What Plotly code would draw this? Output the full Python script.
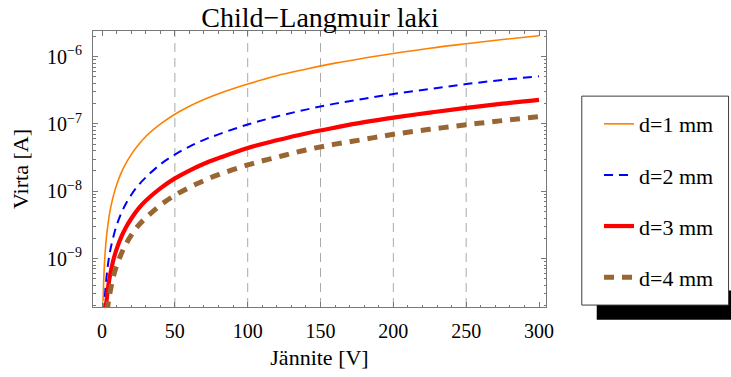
import plotly.graph_objects as go

# Voltage values (V)
voltage = [0.7, 1, 1.5, 2, 3, 4, 5, 6, 8, 10, 13, 16, 20, 25, 30, 40, 50, 60, 70, 80,
           100, 120, 140, 160, 180, 200, 225, 250, 275, 300]

# Current (A), one list per electrode gap
current_d1 = [2.3e-10, 3.9e-10, 7.2e-10, 1.11e-9, 2.04e-9, 3.1e-9, 4.4e-9, 5.8e-9, 8.9e-9, 1.24e-8,
              1.84e-8, 2.5e-8, 3.5e-8, 4.9e-8, 6.5e-8, 9.9e-8, 1.39e-7, 1.83e-7, 2.3e-7, 2.8e-7,
              3.9e-7, 5.2e-7, 6.5e-7, 8.0e-7, 9.5e-7, 1.11e-6, 1.33e-6, 1.55e-6, 1.79e-6, 2.04e-6]
current_d2 = [5.8e-11, 9.8e-11, 1.8e-10, 2.8e-10, 5.1e-10, 7.9e-10, 1.1e-9, 1.44e-9, 2.2e-9, 3.1e-9,
              4.6e-9, 6.3e-9, 8.8e-9, 1.23e-8, 1.6e-8, 2.5e-8, 3.5e-8, 4.6e-8, 5.8e-8, 7.0e-8,
              9.8e-8, 1.29e-7, 1.63e-7, 2.0e-7, 2.37e-7, 2.78e-7, 3.3e-7, 3.9e-7, 4.5e-7, 5.1e-7]
current_d3 = [2.6e-11, 4.4e-11, 8.0e-11, 1.24e-10, 2.27e-10, 3.5e-10, 4.9e-10, 6.4e-10, 9.9e-10, 1.38e-9,
              2.05e-9, 2.8e-9, 3.9e-9, 5.5e-9, 7.2e-9, 1.1e-8, 1.55e-8, 2.03e-8, 2.56e-8, 3.1e-8,
              4.4e-8, 5.7e-8, 7.2e-8, 8.8e-8, 1.06e-7, 1.24e-7, 1.47e-7, 1.73e-7, 2.0e-7, 2.27e-7]
current_d4 = [1.4e-11, 2.5e-11, 4.5e-11, 7.0e-11, 1.28e-10, 2.0e-10, 2.75e-10, 3.6e-10, 5.6e-10, 7.8e-10,
              1.15e-9, 1.57e-9, 2.2e-9, 3.1e-9, 4.0e-9, 6.2e-9, 8.7e-9, 1.14e-8, 1.44e-8, 1.76e-8,
              2.46e-8, 3.2e-8, 4.1e-8, 5.0e-8, 5.9e-8, 7.0e-8, 8.3e-8, 9.7e-8, 1.12e-7, 1.28e-7]

series_names = ["d=1 mm", "d=2 mm", "d=3 mm", "d=4 mm"]

x_ticks = [0, 50, 100, 150, 200, 250, 300]
y_ticks = [1e-9, 1e-8, 1e-7, 1e-6]
y_tick_text = ["10<sup>\u22129</sup>", "10<sup>\u22128</sup>", "10<sup>\u22127</sup>", "10<sup>\u22126</sup>"]
grid_v = [50, 100, 150, 200, 250]

SERIF = "Liberation Serif, Times New Roman, serif"

styles = [
    dict(color="rgb(255,128,0)", width=1.6, dash="solid", shape="spline", smoothing=1.0),
    dict(color="rgb(0,0,255)", width=2, dash="9px,6px", shape="spline", smoothing=1.0),
    dict(color="rgb(255,0,0)", width=4.2, dash="solid", shape="spline", smoothing=1.0),
    dict(color="rgb(153,102,51)", width=5, dash="10px,8px", shape="spline", smoothing=1.0),
]

fig = go.Figure()
for i, (name, ys) in enumerate(zip(series_names, [current_d1, current_d2, current_d3, current_d4])):
    fig.add_trace(go.Scatter(x=voltage, y=ys, mode="lines", name=name, line=styles[i],
                             legendgroup=str(i)))

for v in grid_v:
    fig.add_shape(type="line", xref="x", yref="paper", x0=v, x1=v, y0=0, y1=1,
                  line=dict(color="rgb(170,170,170)", width=1, dash="9px,6px"), layer="below")

# legend box with shadow
fig.add_shape(type="rect", xref="paper", yref="paper", x0=1.112, x1=1.45, y0=-0.046, y1=0.06,
              fillcolor="black", line=dict(width=0))
fig.add_shape(type="rect", xref="paper", yref="paper", x0=1.079, x1=1.403, y0=0.007, y1=0.764,
              fillcolor="white", line=dict(color="rgb(60,60,60)", width=1))

axis_common = dict(showline=True, linecolor="rgb(120,120,120)", linewidth=1, mirror="ticks",
                   ticks="inside", tickcolor="rgb(120,120,120)", ticklen=5,
                   tickfont=dict(family=SERIF, size=20, color="black"), zeroline=False,
                   showgrid=False)

fig.update_layout(
    width=731, height=377,
    margin=dict(l=93, r=184, t=31, b=66),
    paper_bgcolor="white", plot_bgcolor="white",
    title=dict(text="Child\u2212Langmuir laki", x=(320) / 731, xanchor="center", y=0.955, yanchor="middle",
               font=dict(family=SERIF, size=28, color="black")),
    xaxis=dict(range=[-6.2, 304.8], tickvals=x_ticks, ticklabelstandoff=6,
               title=dict(text="Jännite [V]", font=dict(family=SERIF, size=22, color="black"), standoff=8),
               minor=dict(dtick=10, ticks="inside", ticklen=2.5, tickcolor="rgb(120,120,120)"),
               **axis_common),
    yaxis=dict(type="log", range=[-9.72, -5.62], tickvals=y_ticks, ticktext=y_tick_text,
               ticklabelstandoff=6,
               title=dict(text="Virta [A]", font=dict(family=SERIF, size=22, color="black"), standoff=12),
               minor=dict(dtick="D1", ticks="inside", ticklen=2.5, tickcolor="rgb(120,120,120)"),
               **axis_common),
    showlegend=True,
    legend=dict(x=1.117, xanchor="left", y=0.739, yanchor="top", bgcolor="rgba(0,0,0,0)",
                borderwidth=0, font=dict(family=SERIF, size=22, color="black"),
                traceorder="grouped", tracegroupgap=19.5, itemwidth=30),
)

fig.write_html("out.html")
